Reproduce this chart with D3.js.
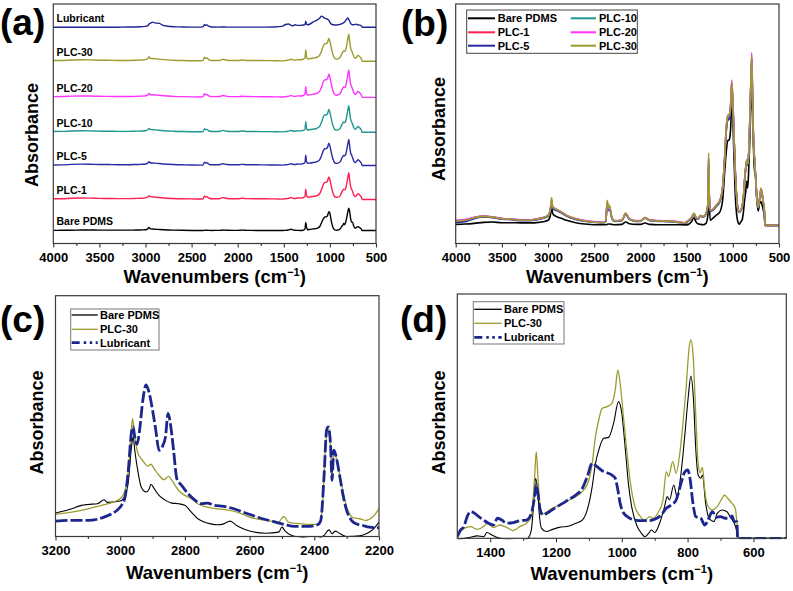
<!DOCTYPE html>
<html><head><meta charset="utf-8">
<script src="https://cdn.jsdelivr.net/npm/d3@7"></script>
<style>
body{margin:0;background:#fff}
svg{display:block}
text{font-family:"Liberation Sans",Arial,Helvetica,sans-serif;font-weight:bold;fill:#000}
</style>
</head><body>
<svg id="chart" width="793" height="591"></svg>
<script>
// ---------- DATA (full spectra, panels a & b) ----------
const wnFull = [
4000,3900,3800,3700,3600,3500,3400,3300,3200,3100,
3050,3000,2975,2962,2950,2920,2900,2850,2800,2700,
2600,2500,2400,2375,2360,2345,2335,2310,2280,2200,
2160,2120,2050,2000,1950,1900,1800,1700,1600,1520,
1480,1450,1420,1400,1380,1350,1320,1290,1270,1262,
1255,1245,1220,1180,1140,1110,1090,1070,1055,1040,
1025,1012,1000,990,975,960,945,930,915,900,
885,870,860,850,840,830,818,805,795,785,
775,765,755,740,725,710,695,685,670,660,
650,640,500];
const bareFull = [
.006,.008,.012,.018,.020,.016,.016,.015,.015,.018,
.022,.030,.060,.115,.070,.055,.050,.040,.030,.016,
.008,.004,.004,.004,.006,.008,.008,.006,.004,.006,
.020,.010,.006,.006,.014,.006,.004,.004,.004,.003,
.006,.020,.045,.022,.010,.006,.004,.012,.060,.300,
.150,.030,.040,.060,.080,.150,.300,.440,.500,.505,
.560,.700,.640,.450,.200,.070,.020,.006,.020,.030,
.080,.160,.200,.260,.220,.300,.470,.700,.830,.690,
.440,.310,.310,.150,.085,.130,.140,.125,.090,.060,
0,0,0];
const plc1Full = [
.026,.030,.046,.053,.049,.040,.037,.031,.031,.040,
.046,.058,.090,.142,.104,.094,.088,.074,.056,.037,
.026,.021,.017,.026,.128,.092,.102,.045,.025,.030,
.070,.038,.026,.026,.046,.031,.027,.025,.021,.015,
.029,.044,.068,.047,.038,.057,.051,.069,.118,.385,
.176,.085,.090,.114,.144,.222,.376,.570,.632,.638,
.688,.838,.730,.572,.338,.180,.096,.078,.088,.110,
.164,.280,.338,.378,.358,.398,.572,.825,.990,.710,
.476,.390,.302,.164,.105,.155,.212,.193,.135,.097,
0,0,0];
const plc5Full = [
.018,.022,.040,.050,.046,.037,.034,.028,.028,.036,
.042,.055,.088,.140,.100,.090,.086,.072,.055,.035,
.024,.018,.014,.024,.125,.090,.100,.044,.024,.028,
.066,.036,.024,.024,.042,.028,.024,.022,.018,.012,
.026,.040,.064,.044,.036,.054,.048,.066,.115,.380,
.172,.082,.088,.110,.140,.218,.370,.560,.620,.628,
.680,.825,.720,.565,.332,.178,.094,.076,.086,.108,
.162,.278,.335,.375,.356,.395,.568,.815,.965,.700,
.470,.386,.298,.162,.104,.152,.210,.190,.132,.095,
0,0,0];
const plc10Full = [
.028,.032,.046,.054,.050,.040,.037,.032,.031,.040,
.046,.058,.092,.145,.105,.095,.090,.076,.058,.038,
.026,.020,.016,.026,.130,.095,.105,.046,.026,.030,
.068,.038,.026,.026,.044,.030,.026,.024,.020,.014,
.028,.042,.066,.046,.038,.056,.050,.068,.118,.390,
.178,.086,.092,.116,.146,.225,.380,.575,.638,.642,
.692,.840,.735,.578,.340,.182,.096,.078,.088,.110,
.165,.282,.340,.380,.360,.400,.575,.830,.985,.715,
.480,.392,.304,.166,.106,.156,.214,.195,.136,.098,
0,0,0];
const plc20Full = [
.030,.034,.048,.055,.050,.041,.038,.033,.032,.040,
.047,.060,.095,.150,.110,.098,.092,.078,.060,.040,
.028,.022,.018,.028,.135,.100,.110,.048,.028,.032,
.070,.040,.028,.028,.045,.032,.028,.026,.022,.016,
.030,.043,.068,.048,.040,.058,.052,.070,.120,.400,
.180,.088,.095,.120,.150,.230,.390,.590,.650,.655,
.705,.858,.745,.585,.345,.185,.098,.080,.090,.112,
.168,.286,.348,.388,.370,.410,.590,.850,1.020,.730,
.490,.398,.310,.170,.110,.160,.220,.200,.140,.100,
0,0,0];
const plc30Full = [
.026,.030,.045,.053,.049,.039,.036,.030,.030,.039,
.045,.059,.099,.164,.112,.099,.093,.077,.059,.039,
.026,.020,.016,.030,.148,.105,.118,.049,.026,.030,
.073,.039,.026,.026,.045,.030,.026,.024,.020,.014,
.030,.045,.073,.049,.039,.059,.053,.073,.128,.428,
.187,.089,.093,.118,.148,.227,.385,.582,.645,.651,
.700,.848,.740,.582,.345,.187,.099,.079,.089,.112,
.168,.286,.345,.385,.365,.404,.582,.838,1.000,.720,
.483,.394,.306,.168,.108,.158,.217,.197,.138,.099,
0,0,0];
const lubFull = [
0,0,0,0,0,0,0,0,.010,.010,
.020,.030,.060,.120,.140,.190,.160,.140,.060,.020,
.010,.005,.005,.020,.100,.070,.080,.030,.010,.005,
.010,.005,.005,.005,.005,.005,.005,.005,.010,.030,
.100,.120,.070,.050,.090,.070,.070,.080,.100,.220,
.120,.090,.110,.200,.260,.340,.410,.370,.330,.320,
.290,.260,.180,.130,.100,.090,.085,.085,.090,.095,
.110,.130,.150,.170,.190,.240,.300,.340,.280,.220,
.140,.100,.090,.090,.115,.100,.090,.085,.070,.050,
0,0,0];

const namesB = ["Bare PDMS","PLC-1","PLC-5","PLC-10","PLC-20","PLC-30"];
const namesA = ["Bare PDMS","PLC-1","PLC-5","PLC-10","PLC-20","PLC-30","Lubricant"];
const valuesFull = {"Bare PDMS":bareFull,"PLC-1":plc1Full,"PLC-5":plc5Full,"PLC-10":plc10Full,"PLC-20":plc20Full,"PLC-30":plc30Full,"Lubricant":lubFull};
const offsetsA = {"Bare PDMS":0.48,"PLC-1":1.63,"PLC-5":2.89,"PLC-10":4.12,"PLC-20":5.41,"PLC-30":6.75,"Lubricant":8.01};

// ---------- DATA (panel c: 3200-2200) ----------
const bareC = [[3200,.156],[3150,.184],[3120,.207],[3100,.213],[3070,.218],[3050,.244],[3040,.227],[3000,.236],[2985,.273],[2975,.362],[2965,.596],[2960,.662],[2955,.573],[2945,.429],[2935,.329],[2920,.296],[2910,.318],[2905,.347],[2895,.318],[2880,.273],[2860,.240],[2840,.222],[2820,.218],[2800,.207],[2780,.162],[2760,.118],[2740,.096],[2720,.084],[2700,.078],[2680,.084],[2660,.102],[2640,.073],[2620,.051],[2600,.036],[2550,.022],[2510,.029],[2500,.062],[2490,.036],[2470,.007],[2440,-.004],[2400,-.016],[2370,.007],[2355,.044],[2345,.018],[2335,.036],[2320,.018],[2300,0],[2260,.004],[2240,.018],[2220,.044],[2200,.096]];
const plc30C = [[3200,.147],[3150,.162],[3100,.184],[3050,.211],[3000,.251],[2985,.307],[2975,.440],[2967,.662],[2962,.784],[2955,.662],[2945,.551],[2935,.518],[2925,.489],[2915,.467],[2905,.480],[2895,.451],[2880,.407],[2865,.378],[2850,.400],[2840,.373],[2820,.307],[2800,.273],[2780,.251],[2760,.218],[2740,.200],[2700,.184],[2660,.173],[2620,.147],[2600,.129],[2550,.107],[2510,.096],[2495,.133],[2480,.096],[2440,.084],[2400,.080],[2385,.084],[2375,.196],[2365,.596],[2358,.729],[2350,.596],[2345,.396],[2340,.551],[2330,.507],[2320,.396],[2310,.284],[2300,.196],[2290,.147],[2280,.124],[2260,.118],[2240,.107],[2220,.129],[2200,.184]];
const lubC = [[3200,.102],[3150,.107],[3100,.107],[3050,.129],[3000,.196],[2985,.262],[2975,.440],[2965,.696],[2960,.729],[2955,.662],[2948,.613],[2940,.707],[2930,.907],[2920,1.007],[2910,.951],[2900,.840],[2890,.707],[2880,.573],[2870,.596],[2860,.662],[2852,.818],[2845,.751],[2835,.573],[2825,.384],[2810,.340],[2790,.284],[2770,.244],[2750,.218],[2730,.222],[2710,.207],[2680,.200],[2660,.191],[2640,.178],[2620,.162],[2600,.147],[2560,.118],[2520,.096],[2490,.078],[2460,.067],[2420,.067],[2390,.078],[2380,.107],[2370,.396],[2362,.707],[2357,.729],[2350,.618],[2345,.373],[2340,.573],[2335,.551],[2328,.484],[2320,.384],[2310,.262],[2300,.173],[2285,.107],[2270,.084],[2250,.073],[2230,.062],[2200,.058]];

// ---------- DATA (panel d: 1500-500) ----------
const plc30D = [[1500,.012],[1480,.050],[1460,.059],[1440,.045],[1420,.059],[1410,.076],[1390,.055],[1370,.067],[1350,.055],[1330,.039],[1310,.059],[1290,.076],[1275,.109],[1265,.311],[1260,.437],[1255,.311],[1248,.160],[1240,.123],[1220,.143],[1200,.160],[1180,.176],[1160,.193],[1140,.210],[1120,.235],[1100,.294],[1090,.378],[1080,.513],[1070,.597],[1060,.655],[1045,.664],[1030,.681],[1020,.748],[1012,.849],[1005,.782],[995,.613],[985,.445],[975,.294],[960,.160],[945,.113],[930,.092],[915,.109],[905,.101],[890,.129],[875,.193],[865,.336],[858,.311],[845,.387],[835,.328],[825,.412],[815,.563],[805,.748],[795,.966],[790,1.000],[783,.916],[775,.613],[768,.378],[762,.331],[755,.358],[748,.244],[740,.168],[725,.143],[710,.160],[695,.202],[688,.218],[678,.202],[665,.176],[655,.151],[650,.076],[645,0],[500,0]];
const bareD = [[1500,-.008],[1460,.005],[1440,.012],[1420,.008],[1410,.029],[1395,.017],[1380,.005],[1350,-.005],[1300,-.012],[1285,0],[1275,.042],[1268,.176],[1262,.303],[1256,.244],[1250,.109],[1244,.050],[1230,.034],[1210,.045],[1190,.055],[1160,.062],[1140,.076],[1120,.092],[1105,.143],[1090,.261],[1080,.378],[1070,.445],[1055,.504],[1040,.509],[1025,.580],[1010,.689],[1000,.630],[990,.462],[980,.277],[970,.160],[955,.067],[940,.025],[930,.008],[920,.022],[910,.042],[900,.029],[885,.076],[870,.160],[862,.210],[855,.193],[842,.269],[832,.210],[820,.328],[808,.529],[798,.714],[790,.818],[782,.697],[775,.445],[768,.319],[760,.303],[755,.319],[745,.176],[735,.101],[720,.084],[710,.126],[695,.143],[680,.134],[668,.101],[658,.076],[650,.034],[645,0],[500,0]];
const lubD = [[1500,.008],[1490,.042],[1480,.059],[1470,.109],[1460,.134],[1450,.129],[1435,.109],[1420,.092],[1405,.076],[1390,.067],[1378,.101],[1365,.092],[1350,.076],[1330,.079],[1310,.089],[1290,.092],[1275,.126],[1265,.210],[1260,.269],[1255,.227],[1248,.143],[1240,.118],[1220,.134],[1200,.156],[1180,.176],[1160,.197],[1140,.218],[1120,.252],[1105,.311],[1090,.378],[1075,.361],[1060,.341],[1045,.331],[1030,.319],[1020,.303],[1012,.244],[1005,.176],[995,.129],[980,.106],[960,.092],[940,.089],[920,.089],[900,.096],[880,.118],[865,.151],[850,.168],[835,.193],[820,.277],[810,.331],[800,.345],[792,.294],[785,.193],[775,.109],[760,.101],[748,.067],[738,.092],[725,.134],[712,.106],[700,.109],[685,.101],[672,.101],[665,.113],[658,.084],[650,.084],[648,0],[500,0]];

// ---------- ticks ----------
const ticksAB = [4000,3500,3000,2500,2000,1500,1000,500];
const minorAB = [3750,3250,2750,2250,1750,1250,750];
const ticksC = [3200,3000,2800,2600,2400,2200];
const minorC = [3100,2900,2700,2500,2300];
const ticksD = [1400,1200,1000,800,600];
const minorD = [1300,1100,900,700];

const colors = {"Bare PDMS":"#000000","PLC-1":"#ff2052","PLC-5":"#2a2aa6","PLC-10":"#1f968e","PLC-20":"#ff32ff","PLC-30":"#9c9c2e","Lubricant":"#1b268f"};

// ---------- DRAW ----------
const svg = d3.select("#chart");
let clipId = 0;
function makePanel(box, xDom, yDom){
  const x = d3.scaleLinear().domain(xDom).range([box.x0, box.x1]);
  const y = d3.scaleLinear().domain(yDom).range([box.y1, box.y0]);
  const id = "clip" + (clipId++);
  svg.append("clipPath").attr("id", id).append("rect")
    .attr("x", box.x0).attr("y", box.y0).attr("width", box.x1-box.x0).attr("height", box.y1-box.y0+1);
  const plot = svg.append("g").attr("clip-path", `url(#${id})`);
  return {x, y, plot, box};
}
function finishPanel(p, major, minor, label, labelPos, yTitlePos, xTitleY){
  const b = p.box;
  svg.append("rect").attr("x", b.x0).attr("y", b.y0).attr("width", b.x1-b.x0).attr("height", b.y1-b.y0)
    .attr("fill","none").attr("stroke","#3a3a3a").attr("stroke-width",1.2);
  const ax = svg.append("g").attr("transform",`translate(0,${b.y1})`)
    .call(d3.axisBottom(p.x).tickValues(major).tickSize(4).tickPadding(5).tickFormat(d3.format("d")));
  ax.select(".domain").remove();
  ax.attr("font-family",'"Liberation Sans",Arial,sans-serif').attr("font-size",13);
  ax.selectAll("text").attr("font-weight","bold").attr("fill","#000");
  ax.selectAll("line").attr("stroke","#333").attr("stroke-width",1.1);
  const mx = svg.append("g").attr("transform",`translate(0,${b.y1})`)
    .call(d3.axisBottom(p.x).tickValues(minor).tickSize(2.5).tickFormat(""));
  mx.select(".domain").remove();
  mx.selectAll("line").attr("stroke","#333").attr("stroke-width",1.1);
  const t = svg.append("text").attr("x",(b.x0+b.x1)/2).attr("y",xTitleY).attr("text-anchor","middle").attr("font-size",18.5);
  t.append("tspan").text("Wavenumbers (cm");
  t.append("tspan").text("\u22121").attr("font-size",11).attr("dy",-7);
  t.append("tspan").text(")").attr("dy",7);
  svg.append("text").attr("transform",`translate(${yTitlePos[0]},${yTitlePos[1]}) rotate(-90)`)
    .attr("text-anchor","middle").attr("dy","0.35em").attr("font-size",18).text("Absorbance");
  svg.append("text").attr("x",labelPos[0]).attr("y",labelPos[1]).attr("font-size",37).text(label);
}
const line = (p) => d3.line().x(d=>p.x(d[0])).y(d=>p.y(d[1])).curve(d3.curveMonotoneX);

// Panel (a)
const pA = makePanel({x0:53.3,x1:376,y0:4,y1:243.5},[4000,500],[0,8.87]);
namesA.forEach(n=>{
  const vals = valuesFull[n];
  const pts = wnFull.map((w,i)=>[w, vals[i] + offsetsA[n]]);
  pA.plot.append("path").attr("d", line(pA)(pts)).attr("fill","none").attr("stroke",colors[n]).attr("stroke-width",1.4);
  svg.append("text").attr("x",56.5).attr("y",pA.y(offsetsA[n]) - 5.5).attr("font-size",10.5).text(n);
});
finishPanel(pA, ticksAB, minorAB, "(a)", [0,35], [31.7,135], 283);

// Panel (b)
const pB = makePanel({x0:455.7,x1:779,y0:4,y1:243.5},[4000,500],[-0.107,1.308]);
namesB.forEach(n=>{
  const vals = valuesFull[n];
  const pts = wnFull.map((w,i)=>[w, vals[i]]);
  pB.plot.append("path").attr("d", line(pB)(pts)).attr("fill","none").attr("stroke",colors[n]).attr("stroke-width",1.6);
});
finishPanel(pB, ticksAB, minorAB, "(b)", [401,35.5], [438.3,129], 283);
(function(){
  svg.append("rect").attr("x",466.7).attr("y",10).attr("width",170.6).attr("height",43.3)
    .attr("fill","#fff").attr("stroke","#444").attr("stroke-width",1);
  const cols = [{lx:468,lx2:495,tx:497.7},{lx:570.7,lx2:596,tx:599}];
  const rows = [18.3,32.3,45.7];
  namesB.forEach((n,i)=>{
    const c = cols[Math.floor(i/3)], r = rows[i%3];
    svg.append("line").attr("x1",c.lx).attr("x2",c.lx2).attr("y1",r).attr("y2",r).attr("stroke",colors[n]).attr("stroke-width",2);
    svg.append("text").attr("x",c.tx).attr("y",r).attr("dy","0.36em").attr("font-size",11).text(n);
  });
})();

const lubDashLegend = "8,4,2.5,3.5,2.5,3.5";
const lubDashPlot = "12,3";
function drawTrio(p, bare, plc, lub){
  p.plot.append("path").attr("d", line(p)(bare)).attr("fill","none").attr("stroke",colors["Bare PDMS"]).attr("stroke-width",1.1);
  p.plot.append("path").attr("d", line(p)(plc)).attr("fill","none").attr("stroke",colors["PLC-30"]).attr("stroke-width",1.3);
  p.plot.append("path").attr("d", line(p)(lub)).attr("fill","none").attr("stroke",colors["Lubricant"]).attr("stroke-width",2.8).attr("stroke-dasharray",lubDashPlot);
}
function trioLegend(box, lineX, textX, rows){
  svg.append("rect").attr("x",box[0]).attr("y",box[1]).attr("width",box[2]).attr("height",box[3])
    .attr("fill","#fff").attr("stroke","#777").attr("stroke-width",1);
  const items = [["Bare PDMS",1.3,null],["PLC-30",1.3,null],["Lubricant",2.8,lubDashLegend]];
  items.forEach((it,i)=>{
    const l = svg.append("line").attr("x1",lineX[0]).attr("x2",lineX[1]).attr("y1",rows[i]).attr("y2",rows[i])
      .attr("stroke",colors[it[0]]).attr("stroke-width",it[1]);
    if(it[2]) l.attr("stroke-dasharray",it[2]);
    svg.append("text").attr("x",textX).attr("y",rows[i]).attr("dy","0.36em").attr("font-size",11).text(it[0]);
  });
}

// Panel (c)
const pC = makePanel({x0:55.5,x1:379,y0:295.7,y1:536.5},[3200,2200],[0,1.60]);
drawTrio(pC, bareC, plc30C, lubC);
finishPanel(pC, ticksC, minorC, "(c)", [0,332], [36.7,422.5], 579);
trioLegend([70.7,309,88.3,41],[71.7,97.7],100,[315,329.3,342.7]);

// Panel (d)
const pD = makePanel({x0:457.3,x1:786.3,y0:294,y1:538.3},[1500,500],[0,1.232]);
drawTrio(pD, bareD, plc30D, lubD);
finishPanel(pD, ticksD, minorD, "(d)", [400,332], [438.3,422.5], 580);
trioLegend([473.3,301.7,90.7,42.3],[474.3,501.7],504,[309.3,323.3,337.3]);
</script>
</body></html>
